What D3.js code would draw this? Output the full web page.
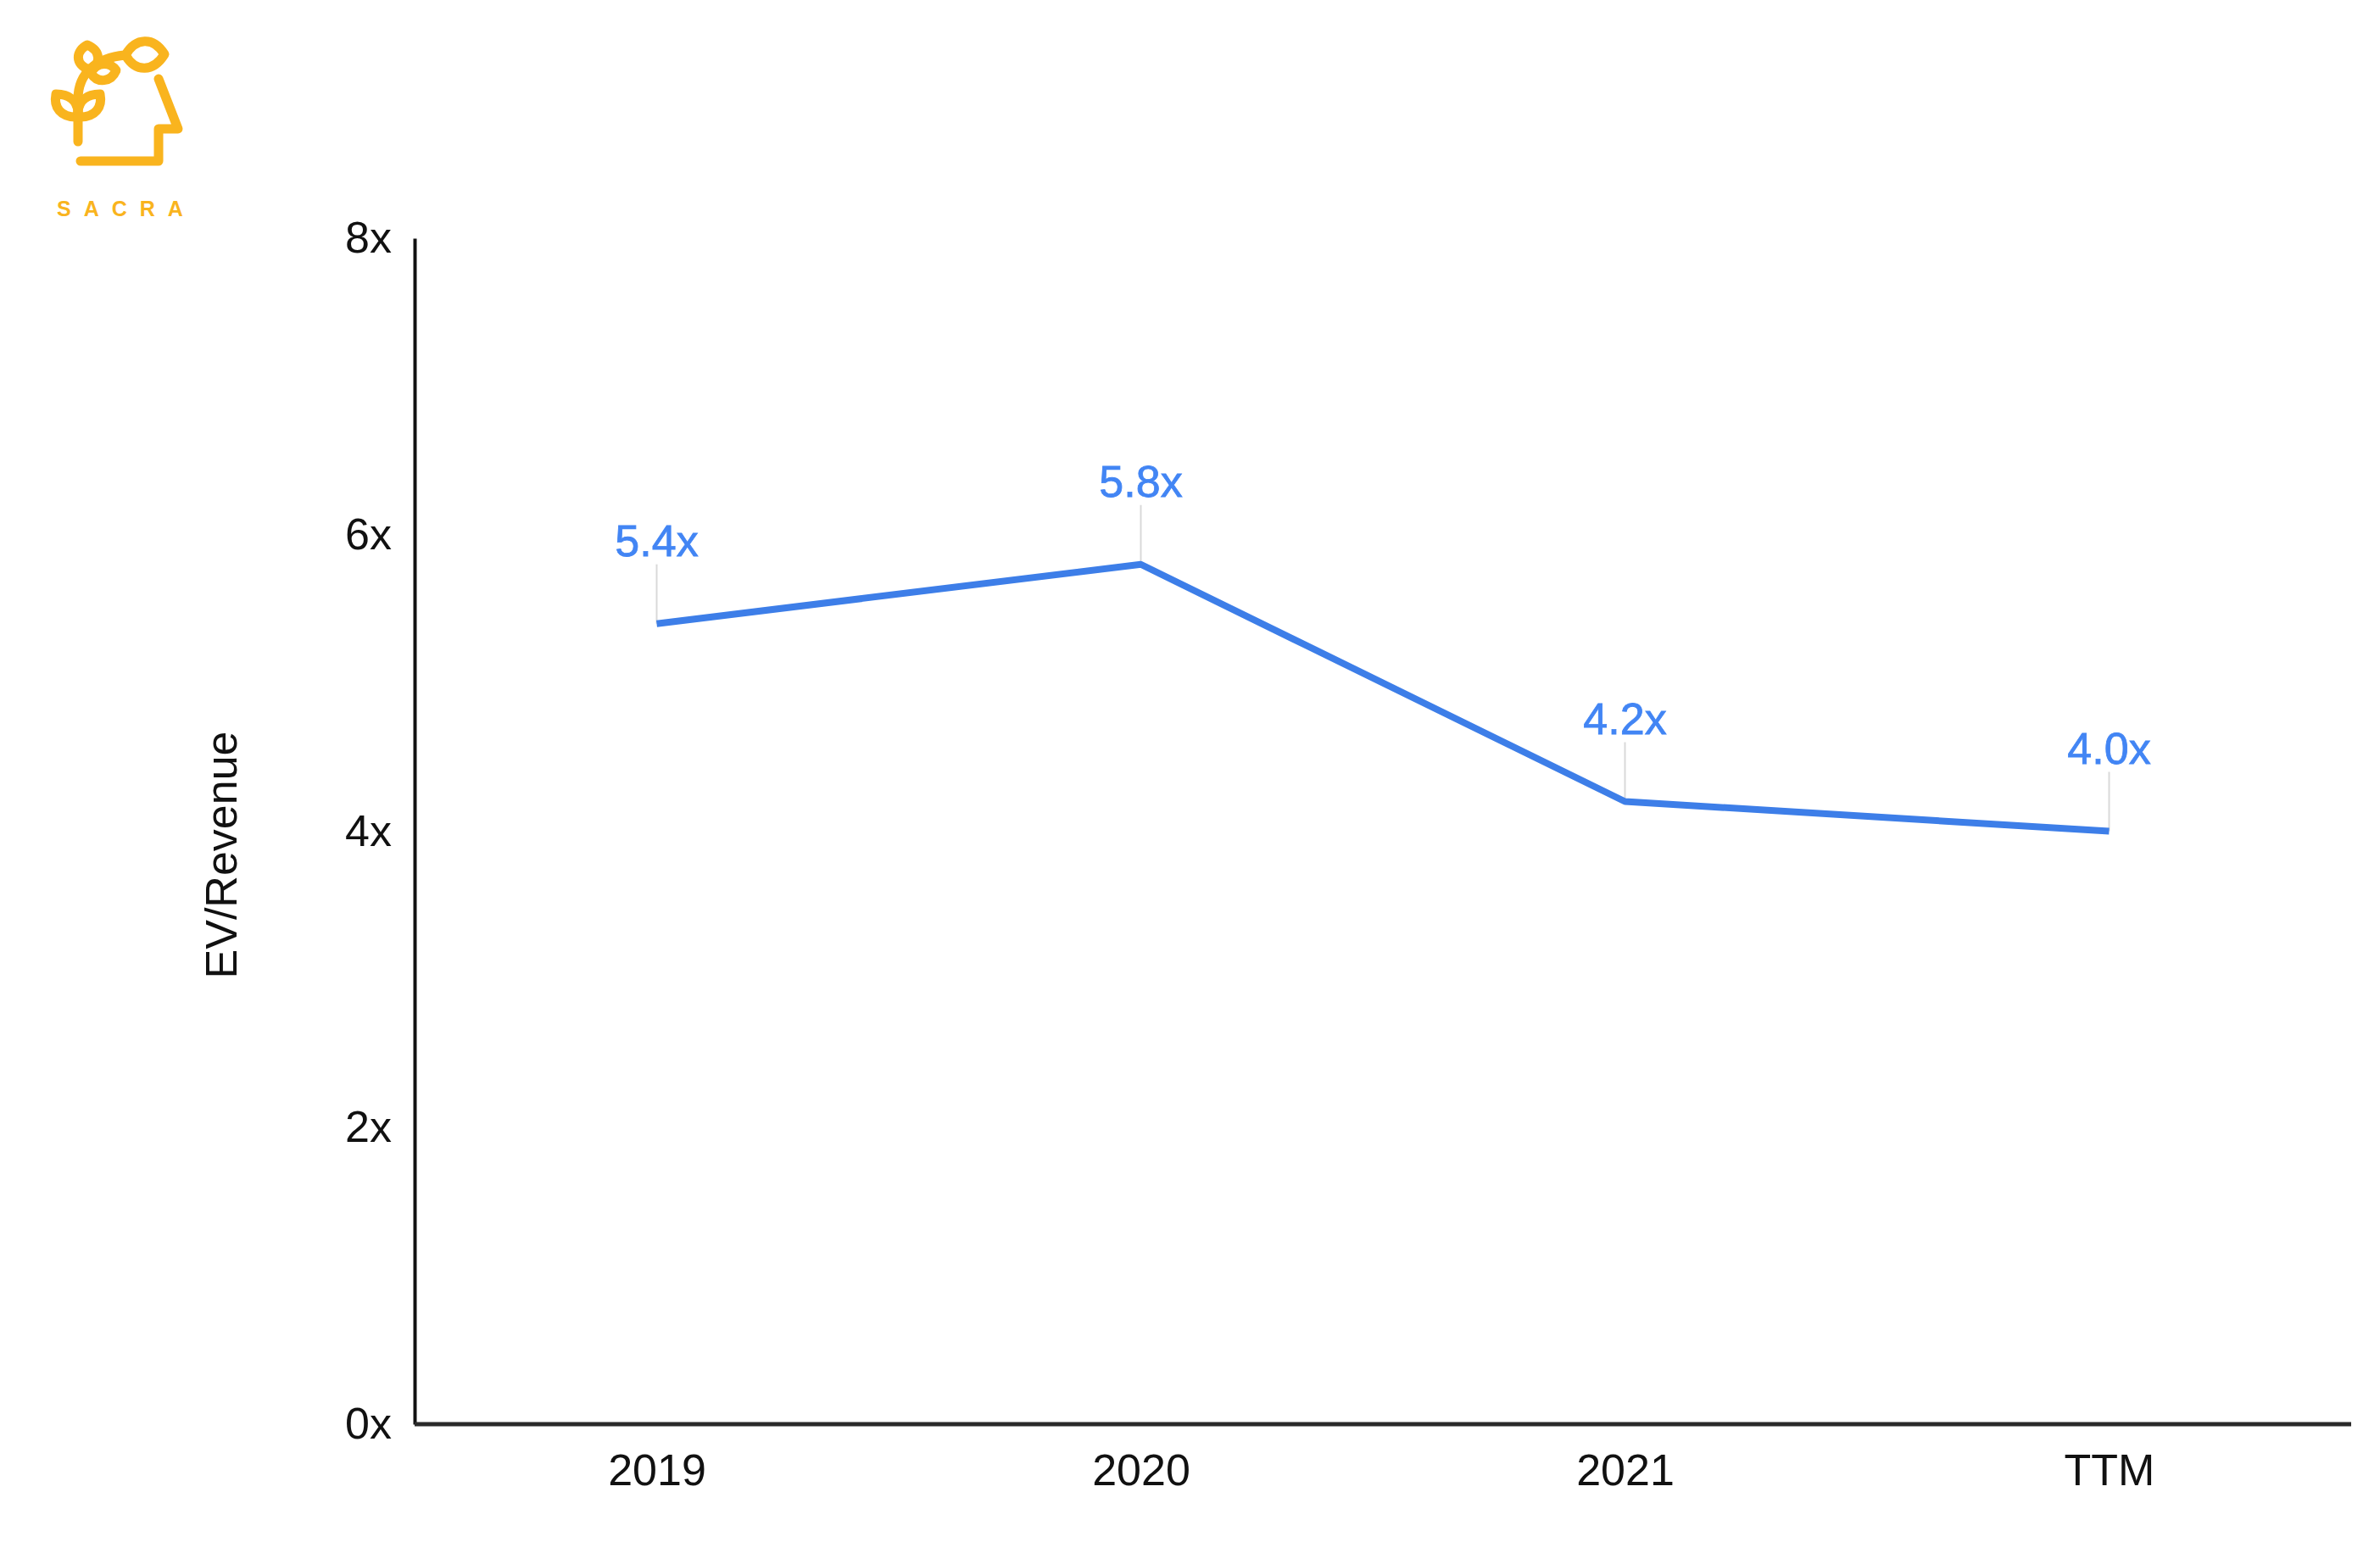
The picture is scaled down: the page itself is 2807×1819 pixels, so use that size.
<!DOCTYPE html>
<html>
<head>
<meta charset="utf-8">
<script src="https://cdn.jsdelivr.net/npm/d3@7"></script>
<style>
  html, body { margin: 0; padding: 0; background: #ffffff; }
  svg { display: block; }
  text { font-family: "Liberation Sans", Arial, sans-serif; }
</style>
</head>
<body>
<svg id="chart" width="2807" height="1819"></svg>
<script>
// ---- data ----
const categories = ["2019", "2020", "2021", "TTM"];
const evRevenue = [5.4, 5.8, 4.2, 4.0];
const yTickValues = [0, 2, 4, 6, 8];
const yAxisTitle = "EV/Revenue";
const brandName = "SACRA";

// ---- layout ----
const W = 2807, H = 1819;
const plot = { left: 489, right: 2773, top: 281, bottom: 1680 };
const fontSize = 52;
const blueLine = "#3d7ee8";
const blueText = "#4285f4";
const gold = "#f9b41e";

const svg = d3.select("#chart");
svg.append("rect").attr("width", W).attr("height", H).attr("fill", "#fff");

const x = d3.scalePoint().domain(categories).range([plot.left, plot.right]).padding(0.5);
const y = d3.scaleLinear().domain([0, 8]).range([plot.bottom, plot.top]);

// ---- y axis ----
const yAxis = svg.append("g")
  .attr("transform", `translate(${plot.left},0)`)
  .call(d3.axisLeft(y).tickValues(yTickValues).tickSize(0).tickSizeOuter(0).tickPadding(27)
    .tickFormat(d => d + "x"));
yAxis.select(".domain").attr("stroke", "#111").attr("stroke-width", 4);
yAxis.selectAll("text").attr("font-size", fontSize).attr("fill", "#111")
  .attr("font-family", "Liberation Sans, Arial, sans-serif");

// ---- x axis ----
const xAxis = svg.append("g")
  .attr("transform", `translate(0,${plot.bottom})`)
  .call(d3.axisBottom(x).tickSize(0).tickSizeOuter(0).tickPadding(35));
xAxis.select(".domain").attr("stroke", "#2a2a2a").attr("stroke-width", 5)
  .attr("d", `M${plot.left},0H${plot.right}`);
xAxis.selectAll("text").attr("font-size", fontSize).attr("fill", "#111")
  .attr("font-family", "Liberation Sans, Arial, sans-serif");

// ---- y axis title ----
svg.append("text")
  .attr("transform", `translate(279,${(plot.top + plot.bottom) / 2 + 28}) rotate(-90)`)
  .attr("text-anchor", "middle")
  .attr("font-size", fontSize)
  .attr("fill", "#111")
  .text(yAxisTitle);

// ---- series ----
const pts = categories.map((c, i) => ({ c, v: evRevenue[i] }));

// leader lines
svg.append("g").selectAll("line").data(pts).join("line")
  .attr("x1", d => x(d.c)).attr("x2", d => x(d.c))
  .attr("y1", d => y(d.v) - 70).attr("y2", d => y(d.v))
  .attr("stroke", "#d9d9d9").attr("stroke-width", 2);

svg.append("path")
  .datum(pts)
  .attr("fill", "none")
  .attr("stroke", blueLine)
  .attr("stroke-width", 8)
  .attr("stroke-linejoin", "round")
  .attr("d", d3.line().x(d => x(d.c)).y(d => y(d.v)));

const fmt = d3.format(".1f");
svg.append("g").selectAll("text").data(pts).join("text")
  .attr("x", d => x(d.c))
  .attr("y", d => y(d.v) - 80)
  .attr("text-anchor", "middle")
  .attr("font-size", fontSize)
  .attr("fill", blueText)
  .attr("stroke", blueText).attr("stroke-width", 0.8)
  .text(d => fmt(d.v) + "x");

// ---- logo ----
const logo = svg.append("g")
  .attr("fill", "none").attr("stroke", gold).attr("stroke-width", 11)
  .attr("stroke-linecap", "round").attr("stroke-linejoin", "round");
// head outline
logo.append("path").attr("d", "M187,93 L210,152 L187,152 L187,190 L95,190");
// stem with curve
logo.append("path").attr("d", "M92,167 L92,117 C92,85 115,68 147,65");
// lower tulip leaves
logo.append("path").attr("d", "M92,138 C71,139 63,126 66,111 C82,111 91,119 92,132");
logo.append("path").attr("d", "M92,138 C113,139 121,126 118,111 C102,111 93,119 92,132");
// middle leaves
logo.append("path").attr("d", "M105,82 C88,76 89,60 103,53 C119,60 120,76 105,82 Z");
logo.append("path").attr("d", "M107,86 C115,72 130,73 137,83 C131,97 115,99 107,86 Z");
// top right leaf
logo.append("path").attr("d", "M148,65 C160,44 181,43 194,64 C181,85 160,86 148,65 Z");
svg.append("text")
  .attr("x", 67).attr("y", 255)
  .attr("font-size", 25).attr("font-weight", "bold")
  .attr("letter-spacing", 15)
  .attr("fill", gold)
  .text(brandName);
</script>
</body>
</html>
